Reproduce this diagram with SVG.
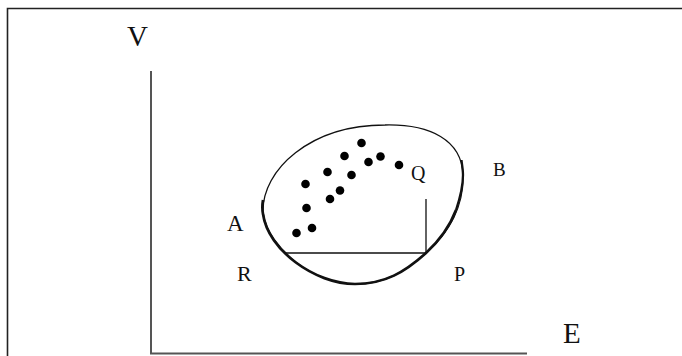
<svg xmlns="http://www.w3.org/2000/svg" width="682" height="356" viewBox="0 0 682 356">
<style>
.lbl{font-family:"Liberation Serif","Times New Roman",serif;fill:#111;}
.big{font-size:29px;}
.dot{fill:#000;}
.ln{stroke:#111;stroke-width:1.3;fill:none;}
.ax{stroke:#555;stroke-width:2;fill:none;}
</style>
<rect width="682" height="356" fill="#fff"/>
<g id="frame">
<path d="M7.5,356 V8.5 H682" stroke="#222" stroke-width="1.6" fill="none"/>
</g>
<g id="axes">
<path class="ax" d="M151,71 V353.5 H527"/>
<text class="lbl big" x="127" y="46">V</text>
<text class="lbl big" x="563" y="343">E</text>
</g>
<g id="region">
<path class="ln" stroke-width="1.6" d="M263,212 C262,170 310,125 385,125 C430,124 462,140 463,175 C464,205 450,232 426,253 C405,272 385,284 355,284 C315,284 268,250 263,212 Z"/>
<path fill="none" stroke="#111" stroke-width="2.7" d="M263,200 C262,206 262,209 263,214 C268,250 315,284 355,284 C385,284 405,272 426,253 C440,240 450,226 456,210"/>
<path fill="none" stroke="#111" stroke-width="2.3" d="M456,210 C460,198 463,188 463,175 C463,170 462,165 461.5,160"/>
<path class="ln" d="M285,253 H426 V199"/>
</g>
<g id="points">
<circle class="dot" cx="296.5" cy="233" r="4.3"/>
<circle class="dot" cx="312" cy="228" r="4.3"/>
<circle class="dot" cx="306.5" cy="208" r="4.3"/>
<circle class="dot" cx="305.5" cy="184" r="4.3"/>
<circle class="dot" cx="327.5" cy="172" r="4.3"/>
<circle class="dot" cx="344.5" cy="156" r="4.3"/>
<circle class="dot" cx="361.5" cy="143" r="4.3"/>
<circle class="dot" cx="380.5" cy="156.5" r="4.3"/>
<circle class="dot" cx="368.5" cy="162" r="4.3"/>
<circle class="dot" cx="351.5" cy="175" r="4.3"/>
<circle class="dot" cx="340" cy="190.5" r="4.3"/>
<circle class="dot" cx="330" cy="199" r="4.3"/>
<circle class="dot" cx="399" cy="165" r="4.3"/>
</g>
<g id="labels">
<text class="lbl" font-size="23" x="227" y="231">A</text>
<text class="lbl" font-size="19" x="493" y="176">B</text>
<text class="lbl" font-size="20" x="411" y="180">Q</text>
<text class="lbl" font-size="22" x="237" y="281">R</text>
<text class="lbl" font-size="20" x="454" y="281">P</text>
</g>
</svg>
